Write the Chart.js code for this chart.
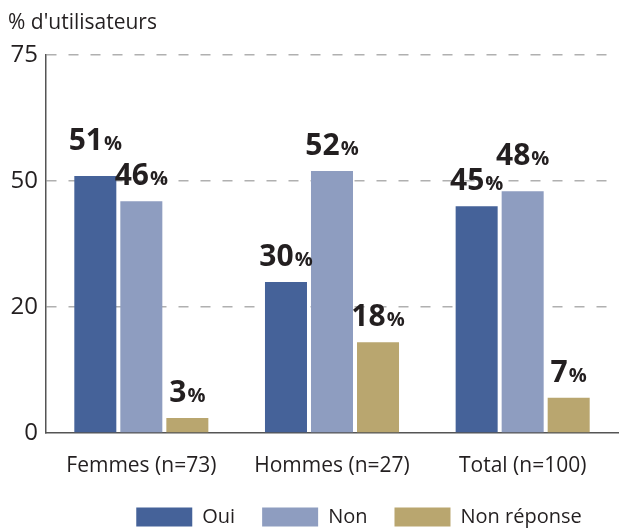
<!DOCTYPE html>
<html>
<head>
<meta charset="utf-8">
<script src="https://cdn.jsdelivr.net/npm/chart.js@4.4.1/dist/chart.umd.min.js"></script>
<style>
  html, body { margin: 0; padding: 0; background: #fff; }
  #wrap { width: 619px; height: 528px; }
</style>
</head>
<body>
<div id="wrap"><canvas id="usersChart"></canvas></div>
<script>
// data
const categories = ['Femmes (n=73)', 'Hommes (n=27)', 'Total (n=100)'];
const ouiValues = [51, 30, 45];
const nonValues = [46, 52, 48];
const nonReponseValues = [3, 18, 7];
const yTickValues = [0, 25, 50, 75];
const yTickLabels = ['0', '20', '50', '75'];

const FONT = "'Open Sans', 'DejaVu Sans', sans-serif";
const TEXT = '#231f20';

// big value labels above the bars: "51" bold + smaller "%"
const valueLabels = {
    id: 'valueLabels',
    afterDatasetsDraw(chart) {
        const c = chart.ctx;
        const sets = chart.data.datasets;
        c.save();
        c.fillStyle = TEXT;
        c.textBaseline = 'alphabetic';
        c.textAlign = 'left';
        sets.forEach((ds, di) => {
            const meta = chart.getDatasetMeta(di);
            meta.data.forEach((bar, i) => {
                const v = ds.data[i];
                // lift a label if the neighbour bar is nearly as tall (avoid overlap)
                let lift = 16;
                [di - 1, di + 1].forEach(n => {
                    if (n >= 0 && n < sets.length) {
                        const nv = sets[n].data[i];
                        if (v > nv && v - nv < 6) lift = 26;
                    }
                });
                const num = String(v);
                c.font = 'bold 30px ' + FONT;
                const wNum = c.measureText(num).width;
                c.font = 'bold 20px ' + FONT;
                const wPct = c.measureText('%').width;
                const x0 = bar.x - (wNum + 1 + wPct) / 2;
                const y = bar.y - lift;
                c.font = 'bold 30px ' + FONT;
                c.fillText(num, x0, y);
                c.font = 'bold 20px ' + FONT;
                c.fillText('%', x0 + wNum + 1, y);
            });
        });
        c.restore();
    }
};

// legend: keep wide item spacing but a shorter box, and nudge it into place
const legendShift = {
    id: 'legendShift',
    beforeLayout(chart) {
        const lg = chart.legend;
        if (lg && !lg._shortFit) {
            const fit = lg.fit.bind(lg);
            lg.fit = function () { fit(); this.height -= 17; };
            lg._shortFit = true;
        }
    },
    afterLayout(chart) {
        const lg = chart.legend;
        if (!lg) return;
        lg.left += 46; lg.right += 46;
        lg.top -= 8;
        lg.bottom = chart.height;
    }
};

const ctx = document.getElementById('usersChart').getContext('2d');
const usersChart = new Chart(ctx, {
    type: 'bar',
    data: {
        labels: categories,
        datasets: [
            { label: 'Oui', data: ouiValues, backgroundColor: '#456299' },
            { label: 'Non', data: nonValues, backgroundColor: '#8e9dc0' },
            { label: 'Non réponse', data: nonReponseValues, backgroundColor: '#b9a66f' }
        ]
    },
    options: {
        responsive: true,
        maintainAspectRatio: false,
        animation: false,
        layout: { padding: { left: 8, right: 1, top: 0, bottom: 0 } },
        datasets: {
            bar: { categoryPercentage: 0.724, barPercentage: 0.913 }
        },
        plugins: {
            title: {
                display: true,
                text: "% d'utilisateurs",
                align: 'start',
                color: TEXT,
                font: { family: FONT, size: 21, weight: 'normal' },
                padding: { top: 10, bottom: 20 }
            },
            legend: {
                position: 'bottom',
                labels: {
                    boxWidth: 56,
                    boxHeight: 19,
                    padding: 27,
                    color: TEXT,
                    font: { family: FONT, size: 20 }
                }
            },
            tooltip: { enabled: false }
        },
        scales: {
            x: {
                grid: { display: false, drawTicks: false },
                border: { display: true, color: '#555', width: 1.5 },
                ticks: { color: TEXT, padding: 20, font: { family: FONT, size: 21 } },
                afterFit(s) { s.height = 55; }
            },
            y: {
                min: 0,
                max: 75,
                afterBuildTicks(s) { s.ticks = yTickValues.map(v => ({ value: v })); },
                grid: {
                    drawTicks: false,
                    color: c => (c.tick && c.tick.value === 0) ? 'rgba(0,0,0,0)' : '#b0b0b0',
                    lineWidth: 1.5
                },
                border: { display: true, color: '#555', width: 1.5, dash: [10, 12] },
                ticks: {
                    color: TEXT,
                    padding: 8,
                    font: { family: FONT, size: 24 },
                    callback: (value, index) => yTickLabels[index]
                },
                afterFit(s) { s.width = 38; }
            }
        }
    },
    plugins: [valueLabels, legendShift]
});
</script>
</body>
</html>
